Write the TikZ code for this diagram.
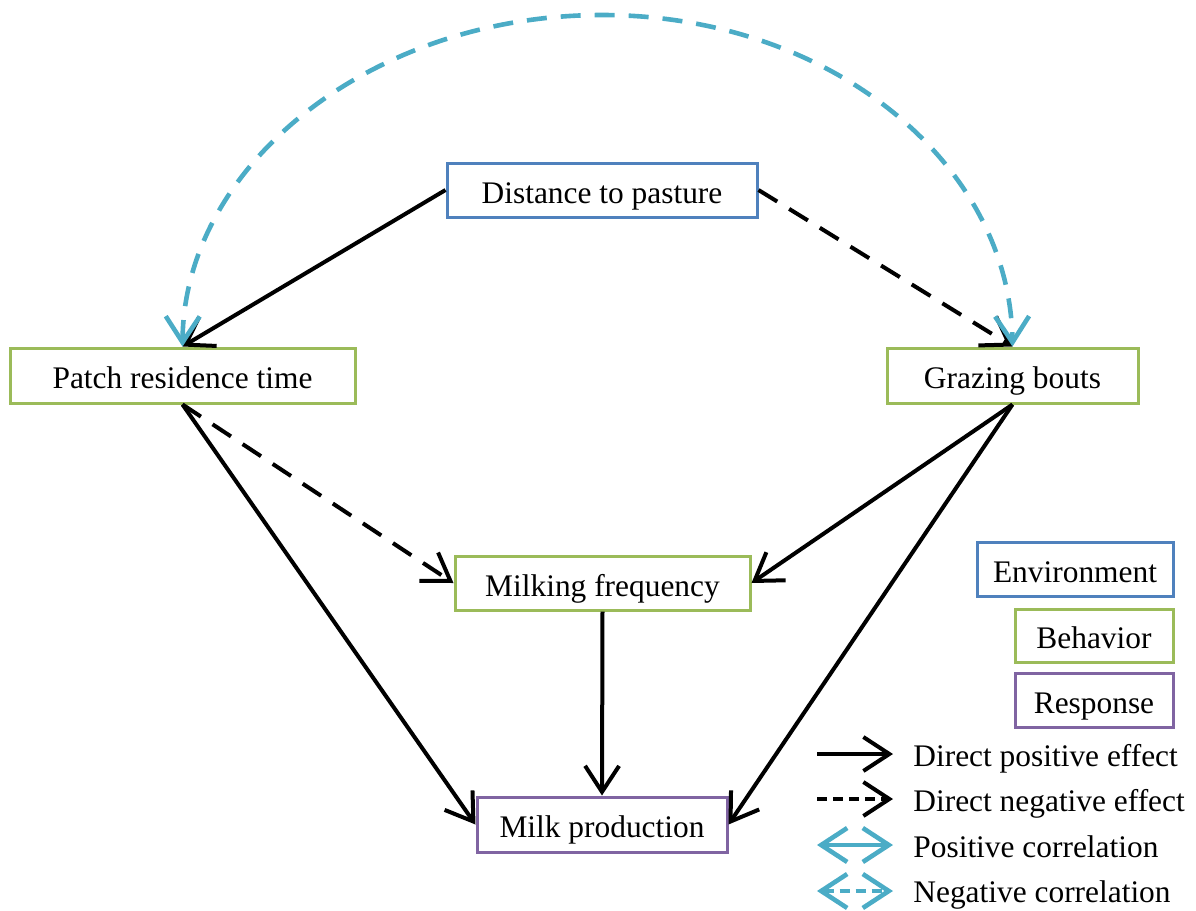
\documentclass[tikz,border=0pt]{standalone}
\usepackage{fontspec}
\setmainfont{Liberation Serif}
\usetikzlibrary{arrows.meta}

\definecolor{envblue}{RGB}{79,129,189}
\definecolor{behgreen}{RGB}{155,187,89}
\definecolor{resppurple}{RGB}{128,100,162}
\definecolor{corrcyan}{RGB}{75,172,198}

\begin{document}
\begin{tikzpicture}[x=0.5pt,y=-0.5pt,
    font=\fontsize{15.7pt}{19pt}\selectfont,
    box/.style={draw,line width=1.5pt,fill=white,inner sep=0pt,text height=13pt,text depth=0pt},
    envbox/.style={box,draw=envblue},
    behbox/.style={box,draw=behgreen},
    respbox/.style={box,draw=resppurple},
    legtext/.style={anchor=base west,inner sep=0pt},
    effect/.style={line width=2pt,-{Straight Barb[length=13pt,width=17pt]}},
    negeffect/.style={effect,dash pattern=on 11pt off 7pt},
    corr/.style={line width=2.3pt,draw=corrcyan,{Straight Barb[length=13pt,width=17pt]}-{Straight Barb[length=13pt,width=17pt]}},
    negcorr/.style={corr,dash pattern=on 10pt off 7pt}]
    \useasboundingbox (0,0) rectangle (1196,911);

    \node[envbox,minimum width=155pt,minimum height=27pt] (dist) at (602,190) {Distance to pasture};
    \node[behbox,minimum width=172.5pt,minimum height=27.5pt] (patch) at (182.5,375.5) {Patch residence time};
    \node[behbox,minimum width=125.5pt,minimum height=27.5pt] (graze) at (1012.5,375.5) {Grazing bouts};
    \node[behbox,minimum width=147.5pt,minimum height=27pt] (milkfreq) at (602.5,583) {Milking frequency};
    \node[respbox,minimum width=125pt,minimum height=27.5pt] (milkprod) at (602,824.5) {Milk production};

    \draw[effect] (dist.west) -- (patch.north);
    \draw[negeffect] (dist.east) -- (graze.north);
    \draw[negcorr] (patch.north) .. controls (184,164) and (373,15) .. (602,15)
        .. controls (831,15) and (1010,164) .. (graze.north);
    \draw[effect] (patch.south) -- (milkprod.west);
    \draw[negeffect] (patch.south) -- (milkfreq.west);
    \draw[effect] (graze.south) -- (milkfreq.east);
    \draw[effect] (graze.south) -- (milkprod.east);
    \draw[effect] (milkfreq.south) -- (milkprod.north);

    \node[envbox,minimum width=98pt,minimum height=27pt] (legenv) at (1075,569) {Environment};
    \node[behbox,minimum width=79pt,minimum height=26.5pt] (legbeh) at (1094,635.5) {Behavior};
    \node[respbox,minimum width=79pt,minimum height=27pt] (legresp) at (1094,700) {Response};

    \coordinate (pos1) at (817,754);
    \coordinate (pos2) at (893,754);
    \coordinate (neg1) at (817,799);
    \coordinate (neg2) at (893,799);
    \coordinate (pcor1) at (817,845);
    \coordinate (pcor2) at (893,845);
    \coordinate (ncor1) at (817,891);
    \coordinate (ncor2) at (893,891);

    \draw[effect] (pos1) -- (pos2);
    \draw[effect,dash pattern=on 5pt off 3pt] (neg1) -- (neg2);
    \draw[corr] (pcor1) -- (pcor2);
    \draw[corr,dash pattern=on 5pt off 3pt] (ncor1) -- (ncor2);

    \node[legtext] (legpos) at (913,766) {Direct positive effect};
    \node[legtext] (legneg) at (913,811) {Direct negative effect};
    \node[legtext] (legpcor) at (913,857) {Positive correlation};
    \node[legtext] (legncor) at (913,902) {Negative correlation};
\end{tikzpicture}
\end{document}
